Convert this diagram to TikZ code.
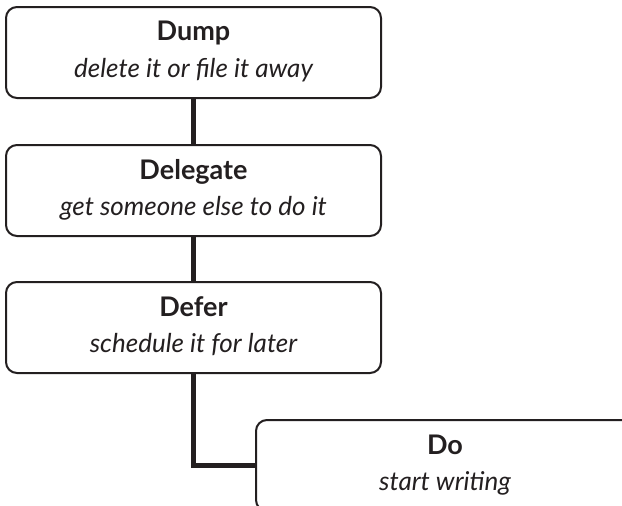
\documentclass[tikz,border=0pt]{standalone}
\usepackage{fontspec}
\setmainfont{Lato}
\definecolor{ink}{HTML}{231F20}
\begin{document}
\begin{tikzpicture}[x=1pt,y=-1pt,
  box/.style={draw=ink, line width=2pt, rounded corners=11pt, minimum width=375pt, minimum height=91pt, inner sep=0pt, fill=white},
  ttl/.style={text=ink, font=\fontsize{27}{31}\selectfont\bfseries, anchor=base, inner sep=0pt},
  sub/.style={text=ink, font=\fontsize{26}{30}\selectfont\itshape, anchor=base, inner sep=0pt},
  link/.style={draw=ink, line width=5pt}]
\useasboundingbox (0,0) rectangle (622,506);
\clip (0,0) rectangle (622,506);
\node[box] (dump) at (193.5,52.5) {};
\node[box] (delegate) at (193.5,190.5) {};
\node[box] (defer) at (193.5,327.5) {};
\node[box, minimum width=378pt] (do) at (445,465.5) {};
\draw[link] (dump.south) -- (delegate.north);
\draw[link] (delegate.south) -- (defer.north);
\draw[link] (defer.south) |- (do.west);
\node[ttl] (t1) at ([yshift=-35pt]dump.north) {Dump};
\node[sub] (s1) at ([yshift=-71pt]dump.north) {delete it or file it away};
\node[ttl] (t2) at ([yshift=-35pt]delegate.north) {Delegate};
\node[sub] (s2) at ([yshift=-71pt]delegate.north) {get someone else to do it};
\node[ttl] (t3) at ([yshift=-35pt]defer.north) {Defer};
\node[sub] (s3) at ([yshift=-71pt]defer.north) {schedule it for later};
\node[ttl] (t4) at ([yshift=-35pt]do.north) {Do};
\node[sub] (s4) at ([yshift=-71pt]do.north) {start writing};
\end{tikzpicture}
\end{document}
